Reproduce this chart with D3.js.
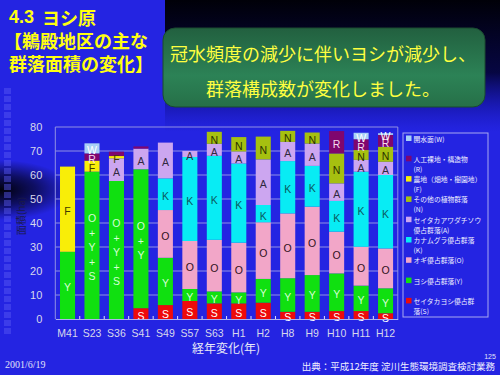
<!DOCTYPE html>
<html>
<head>
<meta charset="utf-8">
<script src="https://cdn.jsdelivr.net/npm/d3@7"></script>
<style>
  body { margin: 0; background: #2222e0; }
  svg { display: block; }
</style>
</head>
<body>
<div id="chart"></div>
<script>
// categories (years) and stacked series, bottom to top
var categories = ["M41", "S23", "S36", "S41", "S49", "S57", "S63", "H1", "H2", "H8", "H9", "H10", "H11", "H12"];
var valuesS = [0, 0, 0, 4.5, 5.8, 7.5, 6.5, 6.5, 6.8, 3, 3, 3.3, 3.3, 2.4];
var valuesY = [28, 61.4, 57.5, 57.9, 19.7, 5, 5, 4.6, 9.9, 14, 15.3, 15.7, 10.6, 10.4];
var valuesO = [0, 0, 0, 0, 19.9, 20, 21.5, 20.7, 23.6, 27, 28.5, 17.4, 16.2, 16.6];
var valuesK = [0, 0, 0, 0, 13.2, 35, 35, 33, 7.2, 21.8, 17, 12.8, 31.3, 30.6];
var valuesA = [0, 0, 9.4, 8.6, 14.9, 2.5, 5, 5, 19, 8, 9.3, 7.3, 4.9, 5.5];
var valuesF = [35.5, 4.6, 1, 0, 0, 0, 0, 0, 0, 0, 0, 0, 0, 0];
var valuesN = [0, 0, 0, 0, 0, 0, 5, 6, 9.5, 4.6, 4.6, 12.5, 4.1, 6.3];
var valuesR = [0, 3, 1.8, 0.9, 0, 0, 0, 0, 0, 0, 0, 9.3, 4.5, 4.9];
var valuesW = [0, 4.2, 0, 0, 0, 0, 0, 0, 0, 0, 0, 0, 2.7, 0.7];

// the green segment carries a combined label in the early years
var greenLabels = ["Y", "O+Y+S", "O+Y+S", "O+Y", "Y", "Y", "Y", "Y", "Y", "Y", "Y", "Y", "Y", "Y"];
var noLabel = ["S36:R", "S41:R"];

var yTicks = [0, 10, 20, 30, 40, 50, 60, 70, 80];

var legendKeys = ["W", "R", "F", "N", "A", "K", "O", "Y", "S"];
var legendLines = [
    ["開水面(W)"],
    ["人工裸地・構造物", "(R)"],
    ["農地（畑地・樹園地）", "(F)"],
    ["その他の植物群落", "(N)"],
    ["セイタカアワダチソウ", "優占群落(A)"],
    ["カナムグラ優占群落", "(K)"],
    ["オギ優占群落(O)"],
    ["ヨシ優占群落(Y)"],
    ["セイタカヨシ優占群", "落(S)"]
];

var seriesKeys = ["S", "Y", "O", "K", "A", "F", "N", "R", "W"];
var seriesValues = { S: valuesS, Y: valuesY, O: valuesO, K: valuesK, A: valuesA, F: valuesF, N: valuesN, R: valuesR, W: valuesW };
var fill = { S: "#ee0a0a", Y: "#10e010", O: "#f2a6c8", K: "#08ecf4", A: "#cca6f0", F: "#f8ee08", N: "#a6c010", R: "#80066e", W: "#a8d0f6" };
var labelColor = { S: "#ffffff", Y: "#d6ffd6", O: "#301020", K: "#0a5a60", A: "#302840", F: "#403a00", N: "#2a3000", R: "#f4dcf0", W: "#ffffff" };

var fontJP = "'Noto Sans CJK JP', sans-serif";
var fontEN = "'Liberation Sans', Arial, sans-serif";

var svg = d3.select("#chart").append("svg").attr("width", 500).attr("height", 375);
var defs = svg.append("defs");

var topGrad = defs.append("linearGradient").attr("id", "topGrad").attr("x1", 0).attr("y1", 0).attr("x2", 0).attr("y2", 1);
topGrad.append("stop").attr("offset", "0%").attr("stop-color", "#000008").attr("stop-opacity", 1);
topGrad.append("stop").attr("offset", "55%").attr("stop-color", "#05053a").attr("stop-opacity", 0.95);
topGrad.append("stop").attr("offset", "100%").attr("stop-color", "#1010a0").attr("stop-opacity", 0);

var darkBand = defs.append("radialGradient").attr("id", "darkBand");
darkBand.append("stop").attr("offset", "0%").attr("stop-color", "#000008").attr("stop-opacity", 1);
darkBand.append("stop").attr("offset", "50%").attr("stop-color", "#000010").attr("stop-opacity", 0.6);
darkBand.append("stop").attr("offset", "100%").attr("stop-color", "#000010").attr("stop-opacity", 0);

var boxGrad = defs.append("linearGradient").attr("id", "boxGrad").attr("x1", 0).attr("y1", 0).attr("x2", 0).attr("y2", 1);
boxGrad.append("stop").attr("offset", "0%").attr("stop-color", "#22603f");
boxGrad.append("stop").attr("offset", "60%").attr("stop-color", "#2c8256");
boxGrad.append("stop").attr("offset", "100%").attr("stop-color", "#267048");

// background
svg.append("rect").attr("width", 500).attr("height", 375).attr("fill", "#2424e2");
svg.append("rect").attr("x", 165).attr("y", 0).attr("width", 335).attr("height", 132).attr("fill", "url(#topGrad)");
svg.append("ellipse").attr("cx", 0).attr("cy", 190).attr("rx", 72).attr("ry", 30).attr("fill", "url(#darkBand)");
svg.append("g").selectAll("rect")
    .data(d3.range(88, 330, 8))
    .enter().append("rect")
    .attr("x", 4).attr("y", function (d) { return d; })
    .attr("width", 7).attr("height", 6)
    .attr("fill", "#5a5af4").attr("opacity", 0.45);

// title
var title = svg.append("g").attr("fill", "#ffff10").attr("font-family", fontJP).attr("font-weight", "bold").attr("font-size", 18);
title.append("text").attr("x", 9).attr("y", 17).attr("dominant-baseline", "central").attr("font-family", fontEN).text("4.3");
title.append("text").attr("x", 42).attr("y", 17).attr("dominant-baseline", "central").text("ヨシ原");
title.append("text").attr("x", 4).attr("y", 40).attr("dominant-baseline", "central").text("【鵜殿地区の主な");
title.append("text").attr("x", 9).attr("y", 63).attr("dominant-baseline", "central").text("群落面積の変化】");

// message box
svg.append("rect").attr("x", 163).attr("y", 28).attr("width", 322).attr("height", 79).attr("rx", 12)
    .attr("fill", "url(#boxGrad)").attr("stroke", "#1a4a30").attr("stroke-width", 1);
var msg = svg.append("g").attr("fill", "#ffff40").attr("font-family", fontJP).attr("font-size", 18).attr("text-anchor", "middle");
msg.append("text").attr("x", 323).attr("y", 53).attr("dominant-baseline", "central").text("冠水頻度の減少に伴いヨシが減少し、");
msg.append("text").attr("x", 323).attr("y", 88).attr("dominant-baseline", "central").text("群落構成数が変化しました。");

// chart
var plotLeft = 55.3, plotRight = 397.8, plotBottom = 319, plotTop = 127;
var x = d3.scaleBand().domain(categories).range([plotLeft, plotRight]).paddingInner(0.385).paddingOuter(0.1925);
var y = d3.scaleLinear().domain([0, 80]).range([plotBottom, plotTop]);

var g = svg.append("g");

g.selectAll(".grid")
    .data(yTicks.filter(function (d) { return d > 0; }))
    .enter().append("line")
    .attr("class", "grid")
    .attr("x1", plotLeft).attr("x2", plotRight)
    .attr("y1", function (d) { return y(d); }).attr("y2", function (d) { return y(d); })
    .attr("stroke", "#9090e4").attr("stroke-width", 1);

g.append("line").attr("x1", plotLeft).attr("x2", plotLeft).attr("y1", plotTop).attr("y2", plotBottom).attr("stroke", "#9090e4");
g.append("line").attr("x1", plotRight).attr("x2", plotRight).attr("y1", plotTop).attr("y2", plotBottom).attr("stroke", "#9090e4");

var rows = categories.map(function (c, i) {
    var r = { cat: c };
    seriesKeys.forEach(function (k) { r[k] = seriesValues[k][i]; });
    return r;
});
var stacked = d3.stack().keys(seriesKeys)(rows);

var layer = g.selectAll(".layer")
    .data(stacked)
    .enter().append("g")
    .attr("class", "layer")
    .attr("fill", function (d) { return fill[d.key]; });

layer.selectAll("rect")
    .data(function (d) { return d.filter(function (p) { return p[1] - p[0] > 0; }); })
    .enter().append("rect")
    .attr("x", function (d) { return x(d.data.cat); })
    .attr("y", function (d) { return y(d[1]); })
    .attr("width", x.bandwidth())
    .attr("height", function (d) { return y(d[0]) - y(d[1]); });

// segment letters
var labels = [];
stacked.forEach(function (s) {
    s.forEach(function (p, i) {
        if (p[1] - p[0] <= 0) return;
        if (noLabel.indexOf(p.data.cat + ":" + s.key) >= 0) return;
        labels.push({ key: s.key, cat: p.data.cat, mid: (p[0] + p[1]) / 2, text: s.key === "Y" ? greenLabels[i] : s.key });
    });
});

var lab = g.selectAll(".seg-label")
    .data(labels)
    .enter().append("text")
    .attr("class", "seg-label")
    .attr("x", function (d) { return x(d.cat) + x.bandwidth() / 2; })
    .attr("y", function (d) { return y(d.mid) + 2; })
    .attr("text-anchor", "middle")
    .attr("dominant-baseline", "central")
    .attr("font-family", fontEN)
    .attr("font-size", 10.5)
    .attr("fill", function (d) { return labelColor[d.key]; });

lab.each(function (d) {
    var parts = d.text.replace(/\+/g, " + ").split(" ");
    var t = d3.select(this);
    if (parts.length === 1) { t.text(d.text); return; }
    var gap = 14.5;
    parts.forEach(function (p, j) {
        t.append("tspan")
            .attr("x", x(d.cat) + x.bandwidth() / 2)
            .attr("y", y(d.mid) + 2 + (j - (parts.length - 1) / 2) * gap)
            .text(p);
    });
});

// axes
var yAxis = g.append("g")
    .attr("transform", "translate(" + plotLeft + ",0)")
    .call(d3.axisLeft(y).tickValues(yTicks).tickSize(0).tickPadding(13));
yAxis.select(".domain").remove();
yAxis.selectAll("text").attr("fill", "#d8d8ec").attr("font-family", fontEN).attr("font-size", 11);

var xAxis = g.append("g")
    .attr("transform", "translate(0," + plotBottom + ")")
    .call(d3.axisBottom(x).tickSize(0).tickPadding(11));
xAxis.select(".domain").attr("stroke", "#b0b0f0");
xAxis.selectAll("text").attr("fill", "#d8d8ec").attr("font-family", fontEN).attr("font-size", 10.5);

g.selectAll(".xtick")
    .data(categories.slice(1))
    .enter().append("line")
    .attr("class", "xtick")
    .attr("x1", function (d) { return x(d) - x.step() * x.paddingInner() / 2; })
    .attr("x2", function (d) { return x(d) - x.step() * x.paddingInner() / 2; })
    .attr("y1", plotBottom - 3).attr("y2", plotBottom)
    .attr("stroke", "#e0e0f8");

svg.append("text")
    .attr("transform", "translate(20," + 216 + ") rotate(-90)")
    .attr("text-anchor", "middle").attr("dominant-baseline", "central")
    .attr("font-family", fontJP).attr("font-size", 10).attr("fill", "#1a1a48")
    .text("面積(ha)");

svg.append("text")
    .attr("x", 226).attr("y", 347)
    .attr("text-anchor", "middle").attr("dominant-baseline", "central")
    .attr("font-family", fontJP).attr("font-size", 12).attr("fill", "#e8e8f8")
    .text("経年変化(年)");

// legend
var legend = svg.append("g");
legend.append("rect").attr("x", 403).attr("y", 133).attr("width", 85).attr("height", 184)
    .attr("fill", "#2424e2").attr("stroke", "#a8a8f0").attr("stroke-width", 1);

var item = legend.selectAll(".item")
    .data(legendKeys)
    .enter().append("g")
    .attr("class", "item")
    .attr("transform", function (d, i) { return "translate(406," + (138.5 + i * 20.3) + ")"; });

item.append("rect").attr("x", 0).attr("y", -3).attr("width", 5.5).attr("height", 5.5)
    .attr("fill", function (d) { return fill[d]; });

item.each(function (d, i) {
    var it = d3.select(this);
    legendLines[i].forEach(function (line, j) {
        it.append("text")
            .attr("x", 7.5).attr("y", j * 10)
            .attr("dominant-baseline", "central")
            .attr("font-family", fontJP).attr("font-size", 6.8).attr("fill", "#f0f0ff")
            .text(line);
    });
});

// footer
svg.append("text").attr("x", 5).attr("y", 364).attr("dominant-baseline", "central")
    .attr("font-family", "'Liberation Serif', serif").attr("font-size", 10).attr("fill", "#e0e0f8")
    .text("2001/6/19");
svg.append("text").attr("x", 490).attr("y", 356).attr("text-anchor", "middle").attr("dominant-baseline", "central")
    .attr("font-family", fontEN).attr("font-size", 7).attr("fill", "#e0e0f8")
    .text("125");
svg.append("text").attr("x", 495).attr("y", 366).attr("text-anchor", "end").attr("dominant-baseline", "central")
    .attr("font-family", fontJP).attr("font-size", 9.5).attr("fill", "#f0f0ff")
    .text("出典：平成12年度 淀川生態環境調査検討業務");
</script>
</body>
</html>
